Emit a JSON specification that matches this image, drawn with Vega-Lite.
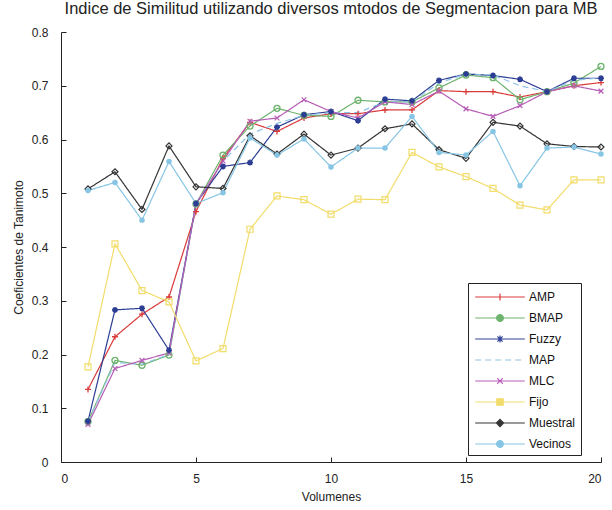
{
  "$schema": "https://vega.github.io/schema/vega-lite/v6.json",
  "width": 540,
  "height": 430,
  "autosize": {"type": "none"},
  "padding": {"left": 61, "top": 32, "right": 11, "bottom": 48},
  "background": "white",
  "config": {
    "font": "Liberation Sans",
    "view": {"stroke": null},
    "axis": {"grid": false, "domainColor": "#222", "tickColor": "#222", "labelColor": "#222", "titleColor": "#222", "labelFontSize": 12, "titleFontSize": 12, "titleFontWeight": "normal", "tickSize": -5}
  },
  "title": {"text": "Indice de Similitud utilizando diversos mtodos de Segmentacion para MB", "fontSize": 16.5, "fontWeight": "normal", "color": "#222", "offset": 9, "anchor": "middle"},
  "datasets": {
    "d": [
      {"v":1,"m":"AMP","c":0.135},{"v":2,"m":"AMP","c":0.233},{"v":3,"m":"AMP","c":0.275},{"v":4,"m":"AMP","c":0.307},{"v":5,"m":"AMP","c":0.466},{"v":6,"m":"AMP","c":0.565},{"v":7,"m":"AMP","c":0.632},{"v":8,"m":"AMP","c":0.615},{"v":9,"m":"AMP","c":0.640},{"v":10,"m":"AMP","c":0.648},{"v":11,"m":"AMP","c":0.648},{"v":12,"m":"AMP","c":0.655},{"v":13,"m":"AMP","c":0.655},{"v":14,"m":"AMP","c":0.691},{"v":15,"m":"AMP","c":0.689},{"v":16,"m":"AMP","c":0.689},{"v":17,"m":"AMP","c":0.679},{"v":18,"m":"AMP","c":0.689},{"v":19,"m":"AMP","c":0.700},{"v":20,"m":"AMP","c":0.706},
      {"v":1,"m":"BMAP","c":0.075},{"v":2,"m":"BMAP","c":0.189},{"v":3,"m":"BMAP","c":0.180},{"v":4,"m":"BMAP","c":0.199},{"v":5,"m":"BMAP","c":0.480},{"v":6,"m":"BMAP","c":0.571},{"v":7,"m":"BMAP","c":0.625},{"v":8,"m":"BMAP","c":0.658},{"v":9,"m":"BMAP","c":0.645},{"v":10,"m":"BMAP","c":0.643},{"v":11,"m":"BMAP","c":0.673},{"v":12,"m":"BMAP","c":0.670},{"v":13,"m":"BMAP","c":0.670},{"v":14,"m":"BMAP","c":0.696},{"v":15,"m":"BMAP","c":0.720},{"v":16,"m":"BMAP","c":0.715},{"v":17,"m":"BMAP","c":0.674},{"v":18,"m":"BMAP","c":0.689},{"v":19,"m":"BMAP","c":0.705},{"v":20,"m":"BMAP","c":0.736},
      {"v":1,"m":"Fuzzy","c":0.076},{"v":2,"m":"Fuzzy","c":0.283},{"v":3,"m":"Fuzzy","c":0.286},{"v":4,"m":"Fuzzy","c":0.208},{"v":5,"m":"Fuzzy","c":0.481},{"v":6,"m":"Fuzzy","c":0.550},{"v":7,"m":"Fuzzy","c":0.557},{"v":8,"m":"Fuzzy","c":0.623},{"v":9,"m":"Fuzzy","c":0.646},{"v":10,"m":"Fuzzy","c":0.652},{"v":11,"m":"Fuzzy","c":0.635},{"v":12,"m":"Fuzzy","c":0.675},{"v":13,"m":"Fuzzy","c":0.672},{"v":14,"m":"Fuzzy","c":0.710},{"v":15,"m":"Fuzzy","c":0.722},{"v":16,"m":"Fuzzy","c":0.719},{"v":17,"m":"Fuzzy","c":0.712},{"v":18,"m":"Fuzzy","c":0.689},{"v":19,"m":"Fuzzy","c":0.714},{"v":20,"m":"Fuzzy","c":0.714},
      {"v":1,"m":"MAP","c":0.075},{"v":2,"m":"MAP","c":0.185},{"v":3,"m":"MAP","c":0.182},{"v":4,"m":"MAP","c":0.200},{"v":5,"m":"MAP","c":0.480},{"v":6,"m":"MAP","c":0.560},{"v":7,"m":"MAP","c":0.610},{"v":8,"m":"MAP","c":0.630},{"v":9,"m":"MAP","c":0.645},{"v":10,"m":"MAP","c":0.650},{"v":11,"m":"MAP","c":0.650},{"v":12,"m":"MAP","c":0.670},{"v":13,"m":"MAP","c":0.670},{"v":14,"m":"MAP","c":0.705},{"v":15,"m":"MAP","c":0.722},{"v":16,"m":"MAP","c":0.720},{"v":17,"m":"MAP","c":0.700},{"v":18,"m":"MAP","c":0.689},{"v":19,"m":"MAP","c":0.710},{"v":20,"m":"MAP","c":0.715},
      {"v":1,"m":"MLC","c":0.070},{"v":2,"m":"MLC","c":0.174},{"v":3,"m":"MLC","c":0.189},{"v":4,"m":"MLC","c":0.203},{"v":5,"m":"MLC","c":0.480},{"v":6,"m":"MLC","c":0.560},{"v":7,"m":"MLC","c":0.634},{"v":8,"m":"MLC","c":0.640},{"v":9,"m":"MLC","c":0.674},{"v":10,"m":"MLC","c":0.652},{"v":11,"m":"MLC","c":0.640},{"v":12,"m":"MLC","c":0.670},{"v":13,"m":"MLC","c":0.665},{"v":14,"m":"MLC","c":0.690},{"v":15,"m":"MLC","c":0.657},{"v":16,"m":"MLC","c":0.643},{"v":17,"m":"MLC","c":0.663},{"v":18,"m":"MLC","c":0.689},{"v":19,"m":"MLC","c":0.700},{"v":20,"m":"MLC","c":0.690},
      {"v":1,"m":"Fijo","c":0.177},{"v":2,"m":"Fijo","c":0.406},{"v":3,"m":"Fijo","c":0.319},{"v":4,"m":"Fijo","c":0.298},{"v":5,"m":"Fijo","c":0.188},{"v":6,"m":"Fijo","c":0.211},{"v":7,"m":"Fijo","c":0.433},{"v":8,"m":"Fijo","c":0.495},{"v":9,"m":"Fijo","c":0.488},{"v":10,"m":"Fijo","c":0.461},{"v":11,"m":"Fijo","c":0.489},{"v":12,"m":"Fijo","c":0.488},{"v":13,"m":"Fijo","c":0.576},{"v":14,"m":"Fijo","c":0.549},{"v":15,"m":"Fijo","c":0.531},{"v":16,"m":"Fijo","c":0.509},{"v":17,"m":"Fijo","c":0.478},{"v":18,"m":"Fijo","c":0.469},{"v":19,"m":"Fijo","c":0.525},{"v":20,"m":"Fijo","c":0.525},
      {"v":1,"m":"Muestral","c":0.508},{"v":2,"m":"Muestral","c":0.540},{"v":3,"m":"Muestral","c":0.470},{"v":4,"m":"Muestral","c":0.588},{"v":5,"m":"Muestral","c":0.512},{"v":6,"m":"Muestral","c":0.509},{"v":7,"m":"Muestral","c":0.607},{"v":8,"m":"Muestral","c":0.573},{"v":9,"m":"Muestral","c":0.610},{"v":10,"m":"Muestral","c":0.571},{"v":11,"m":"Muestral","c":0.584},{"v":12,"m":"Muestral","c":0.620},{"v":13,"m":"Muestral","c":0.629},{"v":14,"m":"Muestral","c":0.581},{"v":15,"m":"Muestral","c":0.565},{"v":16,"m":"Muestral","c":0.632},{"v":17,"m":"Muestral","c":0.625},{"v":18,"m":"Muestral","c":0.592},{"v":19,"m":"Muestral","c":0.587},{"v":20,"m":"Muestral","c":0.586},
      {"v":1,"m":"Vecinos","c":0.505},{"v":2,"m":"Vecinos","c":0.520},{"v":3,"m":"Vecinos","c":0.450},{"v":4,"m":"Vecinos","c":0.559},{"v":5,"m":"Vecinos","c":0.481},{"v":6,"m":"Vecinos","c":0.501},{"v":7,"m":"Vecinos","c":0.603},{"v":8,"m":"Vecinos","c":0.571},{"v":9,"m":"Vecinos","c":0.601},{"v":10,"m":"Vecinos","c":0.549},{"v":11,"m":"Vecinos","c":0.584},{"v":12,"m":"Vecinos","c":0.584},{"v":13,"m":"Vecinos","c":0.643},{"v":14,"m":"Vecinos","c":0.576},{"v":15,"m":"Vecinos","c":0.571},{"v":16,"m":"Vecinos","c":0.615},{"v":17,"m":"Vecinos","c":0.514},{"v":18,"m":"Vecinos","c":0.584},{"v":19,"m":"Vecinos","c":0.586},{"v":20,"m":"Vecinos","c":0.573}
    ]
  },
  "data": {"name": "d"},
  "encoding": {
    "x": {"field": "v", "type": "quantitative", "scale": {"domain": [0, 20], "nice": false}, "axis": {"values": [0, 5, 10, 15, 20], "title": "Volumenes", "labelPadding": 16, "titlePadding": 7}},
    "y": {"field": "c", "type": "quantitative", "scale": {"domain": [0, 0.8], "nice": false}, "axis": {"values": [0, 0.1, 0.2, 0.3, 0.4, 0.5, 0.6, 0.7, 0.8], "format": ".1~f", "title": "Coeficientes de Tanimoto", "labelPadding": 18, "titlePadding": 6}},
    "color": {"field": "m", "type": "nominal", "scale": {"domain": ["AMP", "BMAP", "Fuzzy", "MAP", "MLC", "Fijo", "Muestral", "Vecinos"], "range": ["#d93a3a", "#6db36d", "#2c3e94", "#8fc3e6", "#b65cb6", "#f2dc6a", "#333333", "#86c5e4"]},
      "legend": {"title": null, "orient": "none", "legendX": 407, "legendY": 251, "padding": 5, "strokeColor": "#222", "fillColor": "white", "labelFontSize": 12, "labelColor": "#111", "symbolSize": 256, "symbolOffset": 18, "labelOffset": 20, "rowPadding": 6, "symbolType": "stroke", "labelExpr": "datum.label + '      '",
        "encode": {"symbols": {"update": {
          "shape": {"signal": "datum.value === 'AMP' ? 'M-3.1,0H3.1M0,-0.45V0.45' : datum.value === 'BMAP' || datum.value === 'Vecinos' ? 'M-3.1,0H-0.42M0.42,0H3.1M0.42,0A0.42,0.42,0,1,1,-0.42,0A0.42,0.42,0,1,1,0.42,0' : datum.value === 'Fuzzy' ? 'M-3.1,0H3.1M0,-0.45V0.45M-0.32,-0.32L0.32,0.32M-0.32,0.32L0.32,-0.32' : datum.value === 'MLC' ? 'M-3.1,0H3.1M-0.35,-0.35L0.35,0.35M-0.35,0.35L0.35,-0.35' : datum.value === 'Fijo' ? 'M-3.1,0H-0.4M0.4,0H3.1M-0.4,-0.4H0.4V0.4H-0.4Z' : datum.value === 'Muestral' ? 'M-3.1,0H-0.45M0.45,0H3.1M0,-0.45L0.45,0L0,0.45L-0.45,0Z' : 'M-3.1,0H3.1'"},
          "strokeDash": {"signal": "datum.value === 'MAP' ? [6,4] : [1,0]"},
          "strokeWidth": {"value": 1.2}
        }}}}
    }
  },
  "layer": [
    {"mark": {"type": "line", "strokeWidth": 1.2},
     "encoding": {"strokeDash": {"field": "m", "type": "nominal", "scale": {"domain": ["AMP", "BMAP", "Fuzzy", "MAP", "MLC", "Fijo", "Muestral", "Vecinos"], "range": [[1,0],[1,0],[1,0],[6,4],[1,0],[1,0],[1,0],[1,0]]}, "legend": null}}},
    {"transform": [{"filter": "datum.m === 'AMP'"}], "mark": {"type": "point", "filled": false, "size": 36, "strokeWidth": 1.3, "opacity": 1, "shape": "M-1,0H1M0,-1V1"}},
    {"transform": [{"filter": "datum.m === 'BMAP'"}], "mark": {"type": "point", "filled": false, "size": 36, "strokeWidth": 1.3, "opacity": 1, "shape": "circle"}},
    {"transform": [{"filter": "datum.m === 'MLC'"}], "mark": {"type": "point", "filled": false, "size": 36, "strokeWidth": 1.2, "opacity": 1, "shape": "M-0.8,-0.8L0.8,0.8M-0.8,0.8L0.8,-0.8"}},
    {"transform": [{"filter": "datum.m === 'Fijo'"}], "mark": {"type": "point", "filled": false, "size": 36, "strokeWidth": 1.2, "opacity": 1, "shape": "square"}},
    {"transform": [{"filter": "datum.m === 'Muestral'"}], "mark": {"type": "point", "filled": false, "size": 36, "strokeWidth": 1.2, "opacity": 1, "shape": "diamond"}},
    {"transform": [{"filter": "datum.m === 'Vecinos'"}], "mark": {"type": "point", "filled": true, "size": 30, "opacity": 1, "shape": "circle"}},
    {"transform": [{"filter": "datum.m === 'Fuzzy'"}], "mark": {"type": "point", "filled": false, "size": 36, "strokeWidth": 1.6, "opacity": 1, "shape": "M-1,0H1M0,-1V1M-0.7,-0.7L0.7,0.7M-0.7,0.7L0.7,-0.7"}}
  ]
}
